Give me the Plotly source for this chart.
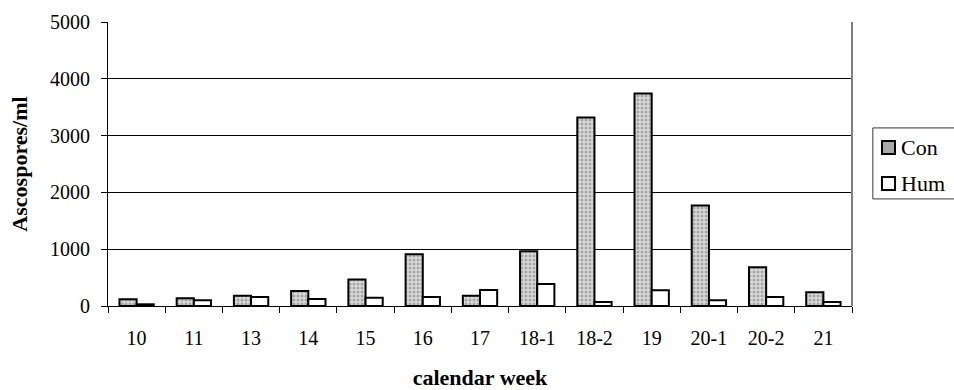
import plotly.graph_objects as go

weeks = ["10", "11", "13", "14", "15", "16", "17", "18-1", "18-2", "19", "20-1", "20-2", "21"]
con = [120, 135, 180, 263, 468, 912, 181, 965, 3320, 3740, 1770, 681, 240]
hum = [30, 100, 158, 123, 146, 158, 281, 386, 70, 276, 100, 158, 70]
y_ticks = [0, 1000, 2000, 3000, 4000, 5000]

FONT = "Liberation Serif"
CON_FILL = "#d6d6d6"
CON_DOTS = "#6e6e6e"

fig = go.Figure()
fig.add_trace(go.Bar(
    name="Con", x=weeks, y=con,
    marker=dict(
        color=CON_FILL,
        line=dict(color="black", width=2),
        pattern=dict(shape=".", fgcolor=CON_DOTS, bgcolor="#dadada", size=4, solidity=0.45),
    ),
))
fig.add_trace(go.Bar(
    name="Hum", x=weeks, y=hum,
    marker=dict(color="white", line=dict(color="black", width=2)),
))

fig.update_layout(
    width=954, height=390,
    margin=dict(l=108, r=102, t=22, b=84, autoexpand=False),
    paper_bgcolor="white", plot_bgcolor="white",
    barmode="group", bargap=0.4, bargroupgap=0,
    font=dict(family=FONT, size=20, color="black"),
    showlegend=False,
    xaxis=dict(
        type="category", showline=True, linecolor="black", linewidth=1,
        ticks="outside", tickson="boundaries", ticklen=6, tickcolor="black",
        mirror=False, showgrid=False, ticklabelstandoff=14,
        title=dict(text="<b>calendar week</b>", font=dict(family=FONT, size=22), standoff=24),
    ),
    yaxis=dict(
        range=[0, 5000], tickvals=y_ticks, showline=True, linecolor="black", linewidth=1,
        ticks="outside", ticklen=6, tickcolor="black", ticklabelstandoff=7,
        showgrid=True, gridcolor="black", gridwidth=1, zeroline=False,
        title=dict(text="<b>Ascospores/ml</b>", font=dict(family=FONT, size=22), standoff=16),
    ),
)

# right border of the plot area in gray
fig.add_shape(type="line", xref="paper", yref="paper", x0=1, x1=1, y0=0, y1=1,
              line=dict(color="#808080", width=2))

# legend box to the right of the plot, drawn in paper coordinates
fig.add_shape(type="rect", xref="paper", yref="paper",
              x0=1.028, x1=1.14, y0=0.377, y1=0.627,
              line=dict(color="#3a3a3a", width=1), fillcolor="white")
legend_items = [
    ("Con", 0.558, "#a9a9a9"),
    ("Hum", 0.431, "white"),
]
for label, yc, fill in legend_items:
    fig.add_shape(type="rect", xref="paper", yref="paper",
                  x0=1.0403, x1=1.0578, y0=yc - 0.0229, y1=yc + 0.0229,
                  line=dict(color="black", width=2), fillcolor=fill)
    fig.add_annotation(text=label, xref="paper", yref="paper", x=1.063, y=yc,
                       xanchor="left", yanchor="middle", showarrow=False,
                       font=dict(family=FONT, size=22, color="black"))

fig.write_html("out.html")
